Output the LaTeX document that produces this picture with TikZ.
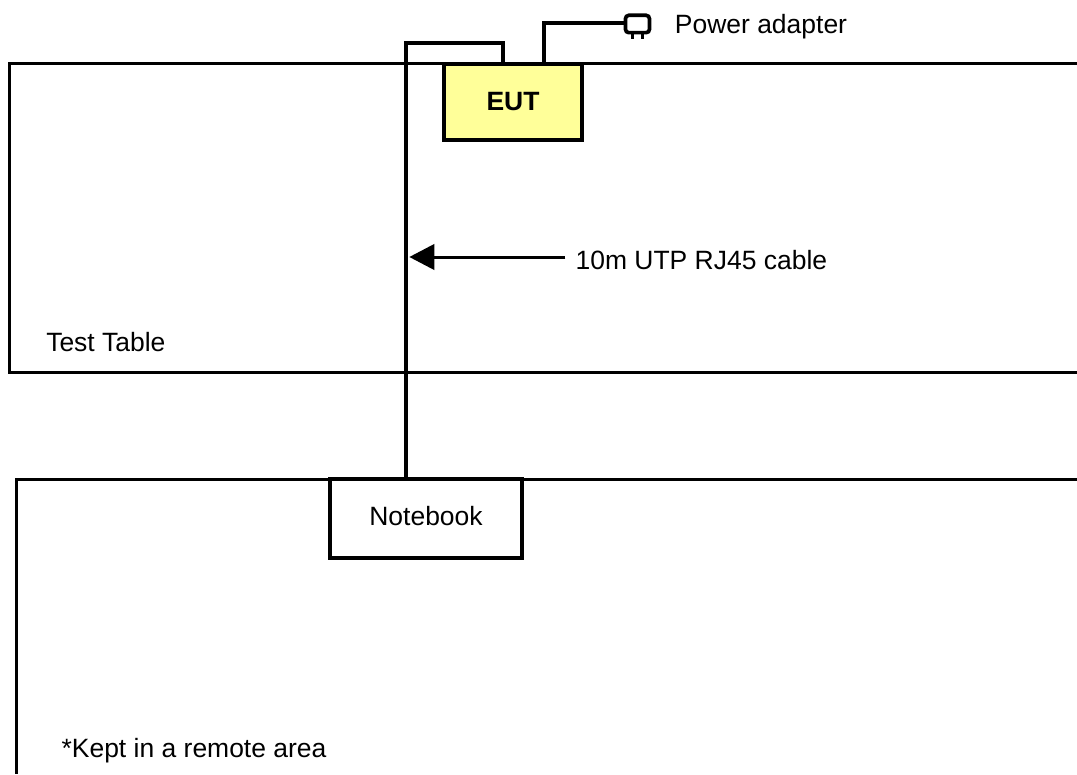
\documentclass[tikz,border=0pt]{standalone}
\usepackage{fontspec}
\setmainfont{Liberation Sans}
\usetikzlibrary{arrows.meta}
\tikzset{
  wire/.style={line width=2.25pt, color=black, line join=miter},
  cable/.style={line width=2.75pt, color=black, line join=miter},
  label/.style={font=\fontsize{19.85pt}{23pt}\selectfont, anchor=west},
}

\begin{document}
\begin{tikzpicture}
[every node/.style={inner sep=0pt}]
\useasboundingbox (0pt, 0pt) rectangle (807.75pt, -580.5pt);
\coordinate (tableTR) at (807.75pt, -48pt);
\coordinate (tableTL) at (7.1pt, -48pt);
\coordinate (tableBL) at (7.1pt, -279.5pt);
\coordinate (tableBR) at (807.75pt, -279.5pt);
\coordinate (areaTR) at (807.75pt, -359.25pt);
\coordinate (areaTL) at (12.2pt, -359.25pt);
\coordinate (areaBL) at (12.2pt, -580.5pt);
\draw [wire] (tableTR) -- (tableTL) -- (tableBL) -- (tableBR);
\draw [wire] (areaTR) -- (areaTL) -- (areaBL);
\node (eut) [rectangle, minimum width=103.5pt, minimum height=57pt, fill={rgb,255:red,255;green,255;blue,153}, line width=2.75pt, draw=black] at (384.75pt, -76.5pt) {\fontsize{19.85pt}{23pt}\selectfont\bfseries EUT};
\node (notebook) [rectangle, minimum width=144pt, minimum height=59.25pt, fill=white, line width=2.75pt, draw=black] at (319.5pt, -389pt) {\fontsize{19.85pt}{23pt}\selectfont\raisebox{3.5pt}{Notebook}};
\node (plug) [rectangle, rounded corners=2.5pt, minimum width=18pt, minimum height=13pt, line width=2.75pt, draw=black] at (478.1pt, -18pt) {};
\coordinate (lan) at (377.25pt, -48pt);
\coordinate (dc) at (408pt, -48pt);
\coordinate (nblan) at (304.5pt, -359.25pt);
\coordinate (cablemid) at (307pt, -192.75pt);
\coordinate (arrowtail) at (424pt, -192.75pt);
\coordinate (prongA) at (474.5pt, -24.5pt);
\coordinate (prongB) at (481.5pt, -24.5pt);
\draw [cable] (nblan) -- (304.5pt, -32.25pt) -- (lan |- 0,-32.25pt) -- (lan);
\draw [cable] (dc) -- (408pt, -17.5pt) -- (plug.west |- 0,-17.5pt);
\draw [line width=2.25pt] (prongA) -- ++(0, -5pt);
\draw [line width=2.25pt] (prongB) -- ++(0, -5pt);
\draw [line width=2.25pt, -{Triangle[length=18.75pt, width=19pt]}] (arrowtail) -- (cablemid);
\node (power) [label] at (506pt, -20pt) {Power adapter};
\node (utp) [label] at (431.5pt, -195pt) {10m UTP RJ45 cable};
\node (table) [label] at (34.5pt, -256.5pt) {Test Table};
\node (remote) [label] at (46pt, -563pt) {*Kept in a remote area};
\end{tikzpicture}
\end{document}
